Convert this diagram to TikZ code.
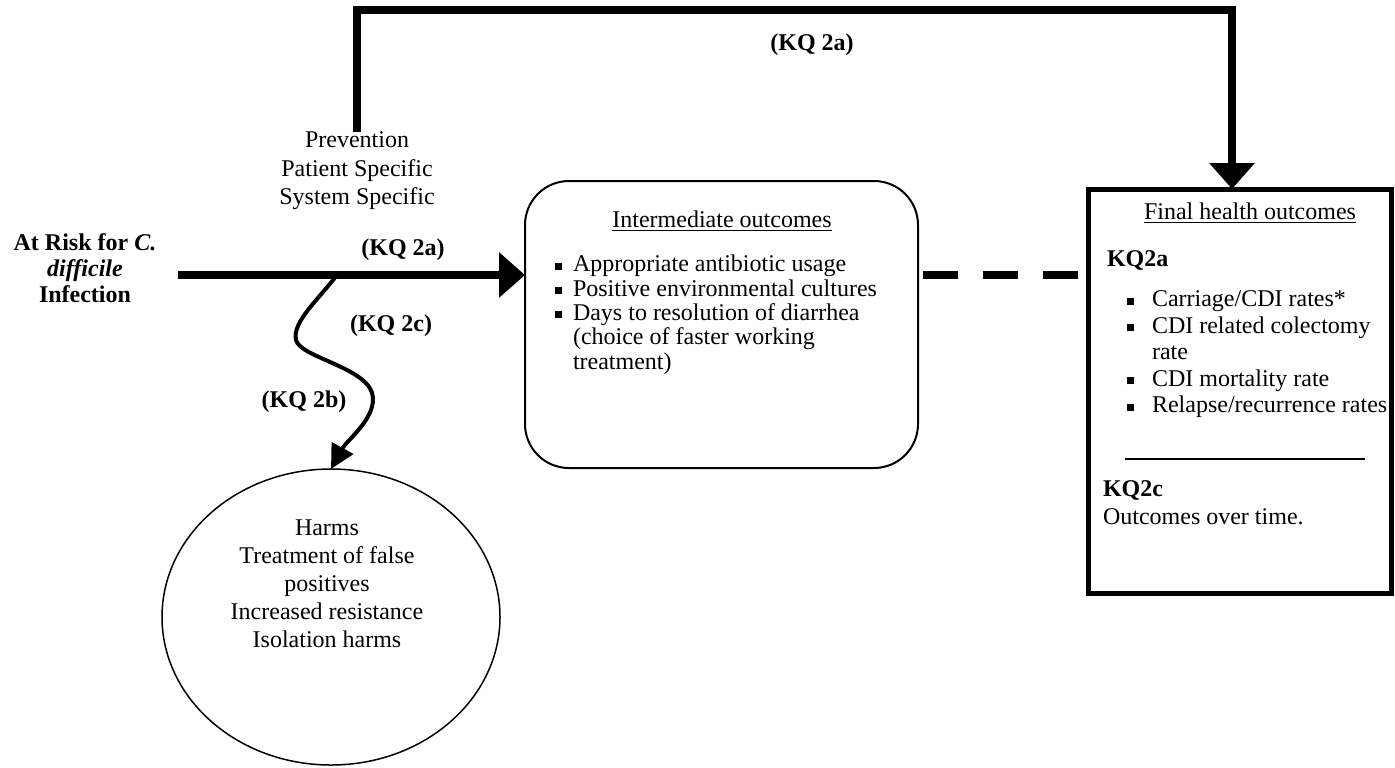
\documentclass[tikz,border=0pt]{standalone}
\usepackage{fontspec}
\setmainfont{Liberation Serif}
\usetikzlibrary{arrows.meta, shapes.geometric}
\newcommand{\sqb}{\raisebox{1pt}{\rule{3.5pt}{3.5pt}}}
\newcommand{\itm}[2]{\makebox[#1][l]{\sqb}#2}

\begin{document}
\begin{tikzpicture}[
    x = 0.5pt, y = -0.5pt,
    font = \fontsize{12}{13.3}\selectfont,
    inner sep = 0, outer sep = 0
  ]
  \tikzstyle {roundbox} = [draw, rounded corners = 22pt, line width = 1pt, minimum width = 196.5pt, minimum height = 143.5pt]
  \tikzstyle {squarebox} = [draw, line width = 2.5pt, minimum width = 151.5pt, minimum height = 202pt]
  \tikzstyle {oval} = [draw, ellipse, line width = 0.75pt, minimum width = 169pt, minimum height = 148pt]
  \tikzstyle {kq} = [font = \fontsize{12}{13}\selectfont\bfseries]
  \tikzstyle {bigarrow} = [line width = 4pt, -{Triangle[length = 13pt, width = 22pt]}]
  \tikzstyle {wiggle} = [line width = 2pt, -{Triangle[length = 12pt, width = 12pt]}]
  \tikzstyle {gap} = [line width = 4pt, dash pattern = on 17.5pt off 12.5pt, shorten <= 2.5pt, shorten >= 4pt]
  \useasboundingbox (0,0) rectangle (1395,767);
  % place nodes
  \path node (risk) [align = center, font = \fontsize{12}{12.9}\selectfont\bfseries] at (85,268)
    {At Risk for \textit{C.}\\\textit{difficile}\\Infection};
  \path node (prev) [align = center, font = \fontsize{12}{14.3}\selectfont] at (357,171)
    {Prevention\\Patient Specific\\System Specific};
  \path node (inter) [roundbox] at (721.5,324.5) {};
  \path node (interhead) at (722,221) {\underline{Intermediate outcomes}};
  \path node (interlist) [align = left, anchor = north west, font = \fontsize{12}{12.2}\selectfont] at (555,255)
    {\itm{9pt}{Appropriate antibiotic usage}\\
     \itm{9pt}{Positive environmental cultures}\\
     \itm{9pt}{Days to resolution of diarrhea}\\
     \hspace*{9pt}(choice of faster working\\
     \hspace*{9pt}treatment)};
  \path node (final) [squarebox] at (1239.5,391) {};
  \path node (finalhead) at (1250,213) {\underline{Final health outcomes}};
  \path node (kqa) [kq, anchor = west] at (1107,260) {KQ2a};
  \path node (finallist) [align = left, anchor = north west, font = \fontsize{12}{13.25}\selectfont] at (1127,291)
    {\itm{12.5pt}{Carriage/CDI rates*}\\
     \itm{12.5pt}{CDI related colectomy}\\
     \hspace*{12.5pt}rate\\
     \itm{12.5pt}{CDI mortality rate}\\
     \itm{12.5pt}{Relapse/recurrence rates}};
  \draw [line width = 1pt] (1125,459) -- (1365,459);
  \path node (kqc) [kq, anchor = west] at (1103,490) {KQ2c};
  \path node (overtime) [anchor = west] at (1103,517) {Outcomes over time.};
  \path node (harms) [oval] at (331,617) {};
  \path node (harmstext) [align = center, font = \fontsize{12}{14}\selectfont] at (327,584)
    {Harms\\Treatment of false\\positives\\Increased resistance\\Isolation harms};
  \foreach \nm/\px/\py/\lbl in {kqtop/812/45/{(KQ 2a)}, kqmain/403/250/{(KQ 2a)},
                                kqwave/391/326/{(KQ 2c)}, kqharm/304/402/{(KQ 2b)}}
    { \path node (\nm) [kq] at (\px,\py) {\lbl}; }
  \coordinate (src) at (178,275);
  \coordinate (fork) at (337,275);
  \coordinate (corner) at (1232,10);
  % place edges
  \draw [bigarrow] (src) -- (inter.west |- src);
  \draw [bigarrow] (prev.north) |- (corner) -- (corner |- final.north);
  \draw [gap] (inter.east |- src) -- (final.west |- src);
  \draw [wiggle] (fork) .. controls (318,300) and (292,322) .. (296,340)
    .. controls (300,358) and (372,368) .. (373,398)
    .. controls (374,420) and (347,440) .. (harms.north);
\end{tikzpicture}
\end{document}
